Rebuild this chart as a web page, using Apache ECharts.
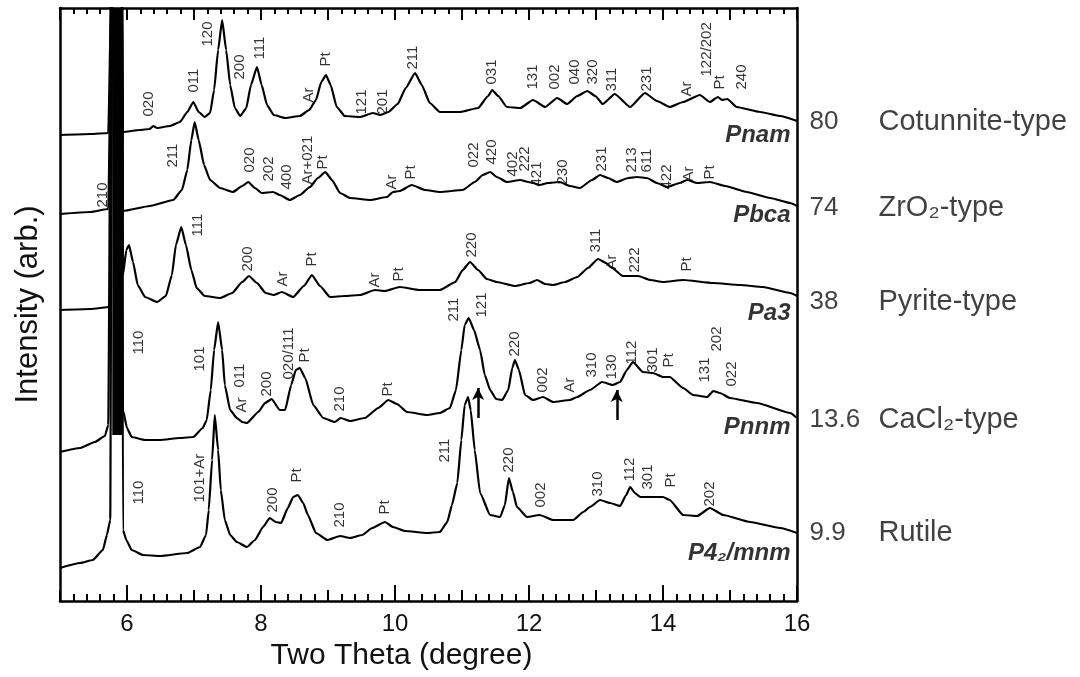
<!DOCTYPE html>
<html>
<head>
<meta charset="utf-8">
<script src="https://cdn.jsdelivr.net/npm/echarts@6/dist/echarts.min.js"></script>
<style>
html, body { margin: 0; padding: 0; background: #fff; }
#chart { width: 1080px; height: 677px; }
</style>
</head>
<body>
<div id="chart"></div>
<script>
// patterns: [two theta (deg), stacked intensity (arb.)], off-scale peak near 5.85 is clipped
const cotunnite = [
  [5.00,466],[5.45,467],[5.72,468],[5.79,700],[5.92,700],[5.94,469],[6.19,471],[6.34,472],[6.39,475],[6.45,473],
  [6.64,475],[6.79,479],[6.90,489],[6.99,499],[7.07,489],[7.16,484],[7.24,488],[7.30,511],[7.36,551],[7.42,581],
  [7.48,551],[7.54,516],[7.61,493],[7.69,485],[7.78,493],[7.85,516],[7.94,534],[8.01,516],[8.09,496],[8.19,486],
  [8.36,483],[8.58,485],[8.72,491],[8.82,501],[8.90,519],[8.97,526],[9.04,516],[9.13,494],[9.25,485],[9.48,484],
  [9.67,488],[9.78,486],[9.90,489],[10.04,497],[10.16,513],[10.30,528],[10.40,516],[10.52,498],[10.67,489],[10.97,489],
  [11.24,493],[11.39,505],[11.45,511],[11.54,505],[11.67,494],[11.87,493],[12.06,501],[12.24,494],[12.42,503],[12.57,497],
  [12.72,505],[12.87,510],[12.99,505],[13.10,497],[13.28,507],[13.51,494],[13.73,508],[13.91,500],[14.10,494],[14.30,499],
  [14.55,506],[14.70,499],[14.82,504],[14.88,501],[14.96,502],[15.10,494],[15.45,489],[15.75,485],[16.00,480]
];
const zro2 = [
  [5.00,387],[5.45,389],[5.72,392],[5.79,700],[5.92,700],[5.94,390],[6.34,395],[6.69,401],[6.82,411],[6.90,431],
  [6.96,461],[7.01,479],[7.07,461],[7.15,436],[7.24,421],[7.39,413],[7.58,409],[7.72,415],[7.81,419],[7.91,413],
  [8.01,408],[8.18,409],[8.28,406],[8.43,401],[8.58,406],[8.73,414],[8.85,423],[8.96,429],[9.06,421],[9.18,408],
  [9.33,403],[9.63,401],[9.88,404],[9.97,409],[10.07,410],[10.25,416],[10.45,411],[10.67,409],[11.01,411],[11.19,419],
  [11.31,426],[11.42,429],[11.52,424],[11.67,419],[11.87,421],[11.99,419],[12.06,418],[12.16,416],[12.28,418],[12.46,419],
  [12.61,415],[12.76,413],[12.94,421],[13.06,426],[13.18,423],[13.31,419],[13.48,423],[13.61,424],[13.76,423],[13.91,418],
  [14.06,414],[14.25,418],[14.36,421],[14.51,418],[14.70,419],[14.93,415],[15.25,409],[15.60,403],[15.90,398],[16.00,395]
];
const pyrite = [
  [5.00,291],[5.45,292],[5.75,294],[5.79,700],[5.92,700],[5.94,326],[5.99,351],[6.03,356],[6.09,339],[6.16,316],
  [6.27,304],[6.45,299],[6.58,305],[6.67,326],[6.73,356],[6.81,374],[6.88,356],[6.96,331],[7.04,313],[7.16,305],
  [7.39,303],[7.57,308],[7.72,319],[7.82,325],[7.94,318],[8.07,308],[8.19,306],[8.31,309],[8.48,304],[8.64,315],
  [8.76,326],[8.88,315],[9.03,304],[9.25,305],[9.48,306],[9.70,311],[9.85,310],[10.07,314],[10.37,311],[10.67,311],
  [10.90,319],[11.01,331],[11.12,339],[11.24,331],[11.37,322],[11.52,319],[11.79,315],[12.01,318],[12.12,321],[12.24,317],
  [12.36,316],[12.54,319],[12.72,324],[12.88,333],[13.03,342],[13.15,338],[13.24,333],[13.40,325],[13.63,325],[13.81,321],
  [14.00,319],[14.30,321],[14.75,318],[15.15,316],[15.49,314],[15.90,308],[16.00,305]
];
const cacl2 = [
  [5.00,149],[5.30,153],[5.52,159],[5.67,165],[5.72,176],[5.77,700],[5.92,700],[5.94,191],[6.00,173],[6.07,164],
  [6.27,161],[6.49,161],[6.79,163],[6.99,164],[7.13,173],[7.19,181],[7.25,211],[7.30,251],[7.36,279],[7.42,251],
  [7.46,216],[7.54,191],[7.64,183],[7.72,179],[7.79,178],[7.96,189],[8.06,198],[8.16,202],[8.28,191],[8.36,191],
  [8.45,216],[8.52,231],[8.58,233],[8.66,223],[8.78,196],[8.93,183],[9.10,179],[9.19,183],[9.33,180],[9.55,183],
  [9.75,193],[9.90,201],[10.03,197],[10.18,189],[10.48,186],[10.67,188],[10.82,193],[10.91,211],[10.99,251],[11.04,276],
  [11.10,283],[11.18,271],[11.27,251],[11.34,226],[11.42,211],[11.51,202],[11.60,201],[11.69,211],[11.75,233],[11.79,241],
  [11.85,231],[11.94,206],[12.06,201],[12.21,204],[12.36,199],[12.61,201],[12.72,204],[12.91,211],[13.09,219],[13.25,216],
  [13.36,219],[13.46,231],[13.55,239],[13.70,229],[13.85,228],[14.00,224],[14.10,224],[14.30,213],[14.45,206],[14.66,204],
  [14.75,210],[14.85,208],[15.00,203],[15.40,198],[15.90,188],[16.00,183]
];
const rutile = [
  [5.00,33],[5.30,38],[5.49,41],[5.64,51],[5.70,66],[5.75,81],[5.78,700],[5.92,700],[5.94,71],[5.99,61],
  [6.07,51],[6.24,46],[6.49,45],[6.90,48],[7.09,54],[7.18,66],[7.22,91],[7.27,141],[7.31,186],[7.36,151],
  [7.40,111],[7.46,81],[7.54,66],[7.64,59],[7.79,54],[7.91,61],[8.03,74],[8.13,83],[8.22,79],[8.30,78],
  [8.40,93],[8.48,104],[8.55,106],[8.63,98],[8.70,86],[8.82,68],[8.99,61],[9.18,65],[9.33,63],[9.51,66],
  [9.66,73],[9.85,79],[9.97,74],[10.15,70],[10.48,68],[10.67,69],[10.78,79],[10.85,96],[10.93,118],[10.99,161],
  [11.04,196],[11.09,204],[11.13,191],[11.19,151],[11.27,108],[11.42,86],[11.57,84],[11.64,96],[11.70,123],[11.76,109],
  [11.82,94],[11.97,84],[12.16,86],[12.36,81],[12.66,81],[12.81,89],[12.91,94],[13.06,101],[13.21,98],[13.36,95],
  [13.45,106],[13.51,114],[13.58,108],[13.66,104],[14.00,104],[14.10,101],[14.30,86],[14.51,85],[14.70,93],[14.90,86],
  [15.30,79],[15.75,73],[16.00,68]
];
// saturated region of the strongest reflection
const saturated = [[5.855,166],[5.855,593]];

// reflection labels: [two theta, level of label foot, text]
const cotunniteLabels = [
  [6.34,484,'020'],[7.01,508,'011'],[7.21,554,'120'],[7.69,521,'200'],[7.99,541,'111'],[8.72,498,'Ar'],
  [8.97,534,'Pt'],[9.52,486,'121'],[9.82,486,'201'],[10.28,531,'211'],[11.45,516,'031'],[12.06,511,'131'],
  [12.40,511,'002'],[12.69,516,'040'],[12.96,516,'320'],[13.24,509,'311'],[13.76,509,'231'],[14.36,504,'Ar'],
  [14.66,524,'122/202'],[14.85,511,'Pt'],[15.18,511,'240']
];
const zro2Labels = [
  [5.64,393,'210'],[6.69,433,'211'],[7.84,428,'020'],[8.13,419,'202'],[8.39,411,'400'],[8.70,416,'Ar+021'],
  [8.93,431,'Pt'],[9.96,411,'Ar'],[10.25,421,'Pt'],[11.19,433,'022'],[11.45,436,'420'],[11.76,424,'402'],
  [11.94,429,'222'],[12.13,414,'421'],[12.51,416,'230'],[13.09,429,'231'],[13.55,428,'213'],[13.76,428,'611'],
  [14.06,411,'422'],[14.40,419,'Ar'],[14.70,421,'Pt']
];
const pyriteLabels = [
  [7.06,364,'111'],[7.81,329,'200'],[8.33,314,'Ar'],[8.76,334,'Pt'],[9.70,313,'Ar'],[10.07,319,'Pt'],
  [11.15,343,'220'],[13.01,348,'311'],[13.24,331,'Ar'],[13.58,328,'222'],[14.36,329,'Pt']
];
const cacl2Labels = [
  [6.19,246,'110'],[7.09,229,'101'],[7.69,213,'011'],[7.72,188,'Ar'],[8.10,204,'200'],[8.43,221,'020/111'],
  [8.66,238,'Pt'],[9.18,189,'210'],[9.90,204,'Pt'],[10.88,279,'211'],[11.31,283,'121'],[11.79,244,'220'],
  [12.21,208,'002'],[12.61,208,'Ar'],[12.94,223,'310'],[13.25,221,'130'],[13.55,236,'112'],[13.85,228,'301'],
  [14.10,233,'Pt'],[14.63,218,'131'],[14.81,249,'202'],[15.03,214,'022']
];
const rutileLabels = [
  [6.19,96,'110'],[7.09,98,'101+Ar'],[8.18,88,'200'],[8.55,118,'Pt'],[9.18,73,'210'],[9.85,86,'Pt'],
  [10.75,138,'211'],[11.70,128,'220'],[12.19,93,'002'],[13.03,104,'310'],[13.51,119,'112'],[13.78,111,'301'],
  [14.13,113,'Pt'],[14.70,94,'202']
];
// new reflections marked in the CaCl2-type pattern: [two theta, tail, tip]
const arrows = [[11.24,183,213],[13.31,181,211]];

const pressures = ['80', '74', '38', '13.6', '9.9'];
const phases = ['Cotunnite-type', 'ZrO\u2082-type', 'Pyrite-type', 'CaCl\u2082-type', 'Rutile'];
const phaseLevels = [479, 393, 299, 181, 68];
const spaceGroups = ['Pnam', 'Pbca', 'Pa3', 'Pnnm', 'P4\u2082/mnm'];
const groupLevels = [466, 386, 288, 174, 48];
const evenTicks = [6, 8, 10, 12, 14, 16];

const FONT = 'Liberation Sans, Arial, Helvetica, sans-serif';

const chart = echarts.init(document.getElementById('chart'));

const traceSeries = [cotunnite, zro2, pyrite, cacl2, rutile].map(d => ({
  type: 'line', data: d, showSymbol: false, smooth: 0.15, smoothMonotone: 'x',
  lineStyle: { color: '#000', width: 2.2 }, z: 3, clip: true
}));

const allLabels = [].concat(cotunniteLabels, zro2Labels, pyriteLabels, cacl2Labels, rutileLabels);

const frameLine = { show: true, onZero: false, lineStyle: { color: '#000', width: 2.5 } };

const option = {
  animation: false,
  backgroundColor: '#fff',
  grid: { left: 60, right: 283, top: 8, bottom: 76 },
  xAxis: [
    {
      type: 'value', min: 5, max: 16, interval: 1, position: 'bottom',
      name: 'Two Theta (degree)', nameLocation: 'middle', nameGap: 38,
      nameTextStyle: { fontFamily: FONT, fontSize: 30, color: '#111', padding: [0, 54, 0, 0] },
      axisLine: frameLine,
      axisTick: { inside: true, length: 11, lineStyle: { color: '#000', width: 2 } },
      minorTick: { show: true, splitNumber: 5, length: 7, lineStyle: { color: '#000', width: 2 } },
      axisLabel: { customValues: evenTicks, fontFamily: FONT, fontSize: 24, color: '#111', margin: 11 },
      splitLine: { show: false }
    },
    {
      type: 'value', min: 5, max: 16, position: 'bottom',
      axisLine: { show: false },
      axisTick: { inside: true, customValues: evenTicks, length: 16, lineStyle: { color: '#000', width: 2 } },
      axisLabel: { show: false }, splitLine: { show: false }
    },
    {
      type: 'value', min: 5, max: 16, interval: 1, position: 'top',
      axisLine: frameLine,
      axisTick: { inside: true, length: 12, lineStyle: { color: '#000', width: 2 } },
      minorTick: { show: true, splitNumber: 5, length: 6, lineStyle: { color: '#000', width: 2 } },
      axisLabel: { show: false }, splitLine: { show: false }
    }
  ],
  yAxis: [
    {
      type: 'value', min: 0, max: 593, position: 'left',
      name: 'Intensity (arb.)', nameLocation: 'middle', nameGap: 16,
      nameTextStyle: { fontFamily: FONT, fontSize: 31, color: '#111' },
      axisLine: frameLine, axisTick: { show: false }, axisLabel: { show: false }, splitLine: { show: false }
    },
    {
      type: 'value', min: 0, max: 593, position: 'right',
      axisLine: frameLine, axisTick: { show: false }, axisLabel: { show: false }, splitLine: { show: false }
    }
  ],
  series: traceSeries.concat([
    {
      type: 'line', data: saturated, showSymbol: false,
      lineStyle: { color: '#000', width: 10, cap: 'butt' }, z: 4
    },
    {
      type: 'scatter', data: allLabels, symbolSize: 1, itemStyle: { color: 'rgba(0,0,0,0)' }, z: 5,
      label: {
        show: true, position: [0, 0], rotate: 90, align: 'left', verticalAlign: 'middle',
        formatter: p => p.data[2], fontFamily: FONT, fontSize: 15, color: '#000'
      }
    },
    {
      type: 'scatter', data: phaseLevels.map((v, i) => [16, v, pressures[i], phases[i]]),
      symbolSize: 1, itemStyle: { color: 'rgba(0,0,0,0)' }, clip: false,
      label: {
        show: true, position: 'right', distance: 12,
        formatter: p => '{p|' + p.data[2] + '}{n|' + p.data[3] + '}',
        rich: {
          p: { fontFamily: FONT, fontSize: 26, color: '#111', width: 69 },
          n: { fontFamily: FONT, fontSize: 29, color: '#111' }
        }
      }
    },
    {
      type: 'scatter', data: groupLevels.map((v, i) => [16, v, spaceGroups[i]]),
      symbolSize: 1, itemStyle: { color: 'rgba(0,0,0,0)' }, clip: false,
      label: {
        show: true, position: 'left', distance: 6, formatter: p => p.data[2],
        fontFamily: FONT, fontSize: 24, fontStyle: 'italic', fontWeight: 'bold', color: '#000'
      }
    },
    {
      type: 'line', data: [], showSymbol: false,
      markLine: {
        silent: true, symbol: ['none', 'arrow'], symbolSize: [9, 12],
        lineStyle: { color: '#000', width: 2.5, type: 'solid' }, label: { show: false },
        data: arrows.map(a => [{ coord: [a[0], a[1]] }, { coord: [a[0], a[2]] }])
      }
    }
  ])
};

chart.setOption(option);
</script>
</body>
</html>
